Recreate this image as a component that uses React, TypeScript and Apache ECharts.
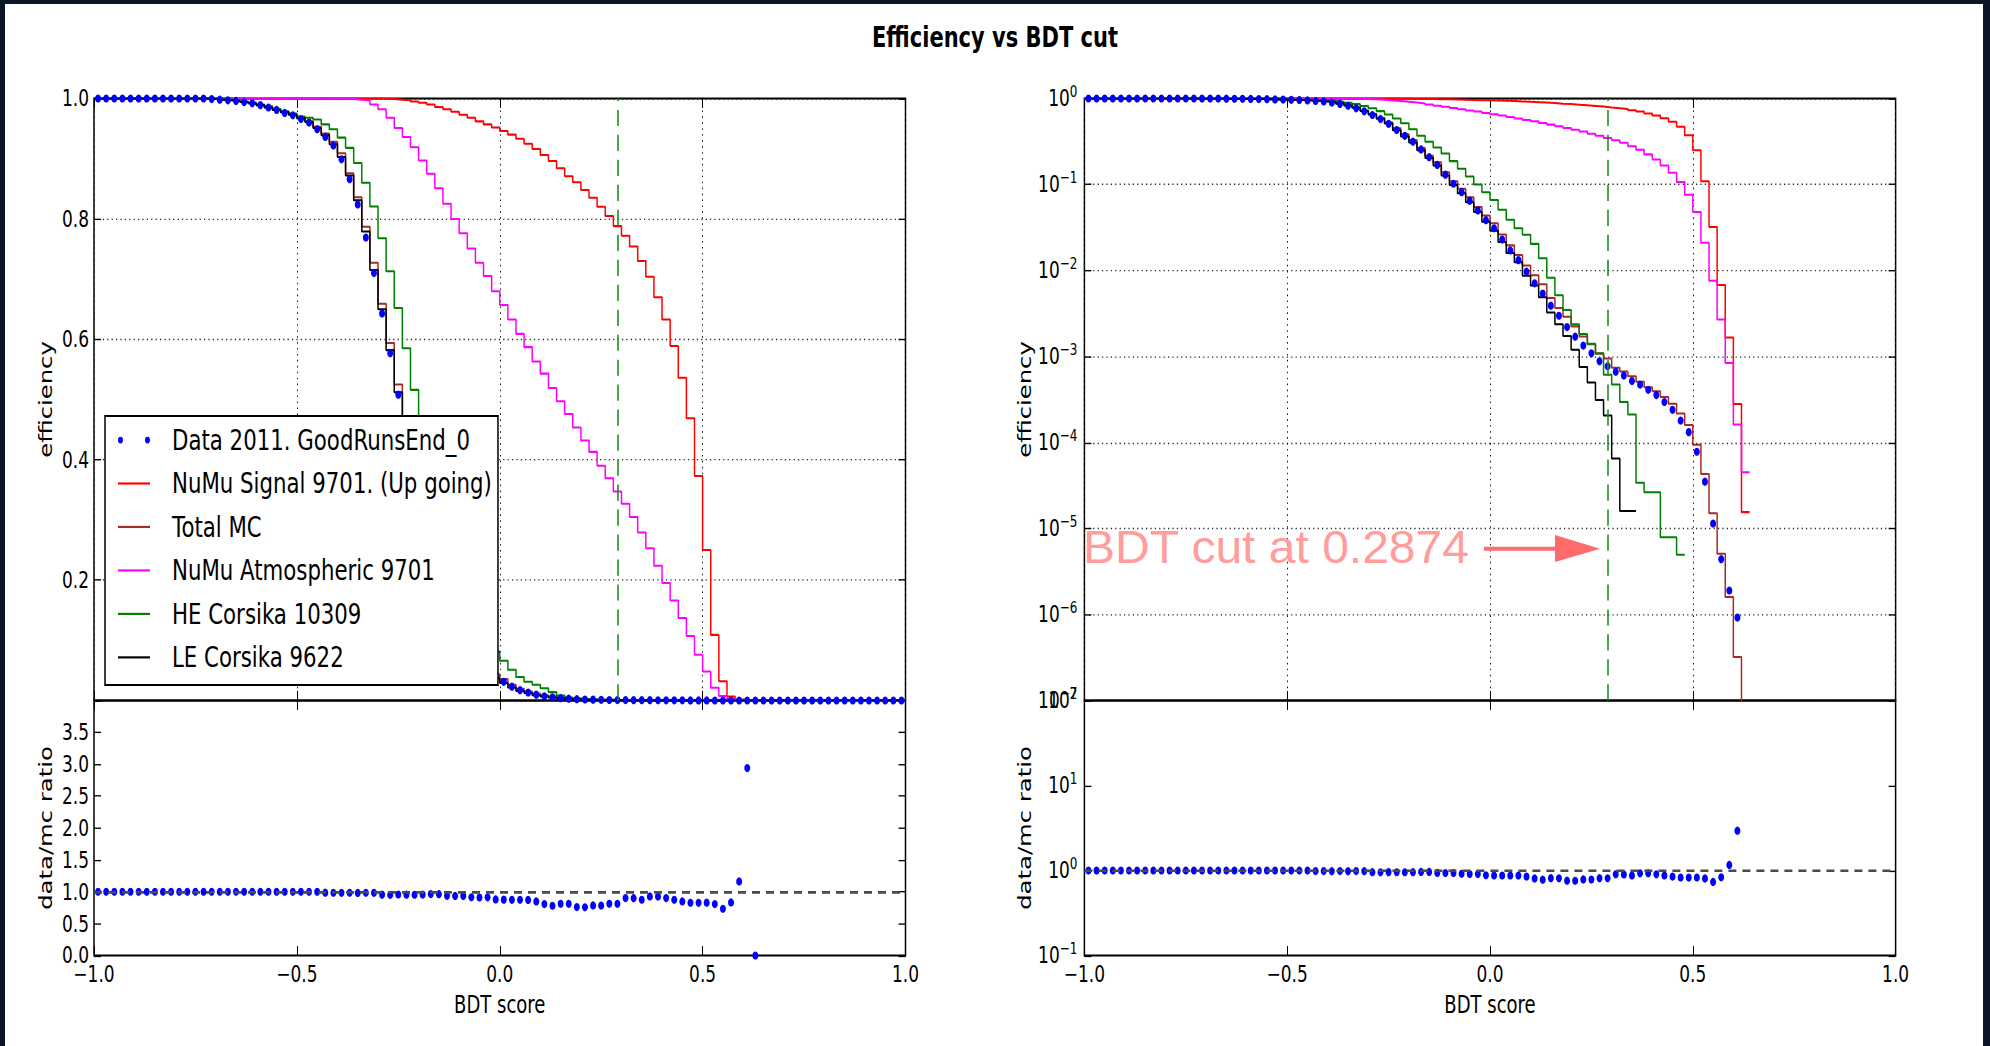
import React, { useEffect, useRef } from 'react';
import * as echarts from 'echarts';

// ---------------- data ----------------
const BIN_COUNT = 100;
const BIN_WIDTH = 0.02;
const X_MIN = -1;

const SERIES_NAMES = [
  'Data 2011. GoodRunsEnd_0',
  'NuMu Signal 9701. (Up going)',
  'Total MC',
  'NuMu Atmospheric 9701',
  'HE Corsika 10309',
  'LE Corsika 9622',
];

const DATA_EFF = [
  1, 1, 1, 1, 1, 1, 1, 1, 1, 1, 1, 1, 1, 1,
  0.999, 0.998, 0.997, 0.996, 0.994, 0.992,
  0.989, 0.985, 0.981, 0.976, 0.972, 0.966, 0.96, 0.949, 0.936, 0.922,
  0.899, 0.866, 0.824, 0.769, 0.71, 0.643, 0.577, 0.508, 0.43, 0.368,
  0.315, 0.256, 0.208, 0.169, 0.13, 0.102, 0.0814, 0.0648, 0.05, 0.0385,
  0.031, 0.0229, 0.0171, 0.0132, 0.0097, 0.0071, 0.0054, 0.0039, 0.00298, 0.0022,
  0.0017, 0.00134, 0.00109, 0.00088, 0.00077, 0.000665, 0.0006, 0.00052, 0.000472, 0.00041,
  0.000356, 0.000296, 0.00024, 0.00018, 0.000132, 0.000078, 0.000035, 0.0000114, 0.0000044, 0.0000019,
  0.00000092, 0, 0, 0, 0, 0, 0, 0, 0, 0,
  0, 0, 0, 0, 0, 0, 0, 0, 0, 0,
];

const SIGNAL_EFF = [
  1, 1, 1, 1, 1, 1, 1, 1, 1, 1, 1, 1, 1, 1, 1, 1, 1, 1, 1, 1,
  1, 1, 1, 1, 1, 1, 1, 1, 1, 1, 1, 1, 1, 1, 1, 1,
  0.999, 0.998, 0.997, 0.995,
  0.993, 0.99, 0.986, 0.982, 0.978, 0.973, 0.968, 0.962, 0.957, 0.952,
  0.946, 0.94, 0.933, 0.925, 0.916, 0.906, 0.896, 0.884, 0.871, 0.861,
  0.848, 0.835, 0.82, 0.805, 0.788, 0.772, 0.754, 0.73, 0.704, 0.67,
  0.633, 0.589, 0.536, 0.469, 0.373, 0.25, 0.109, 0.032, 0.0068, 0.00166,
  0.00028, 0.0000155, 0, 0, 0, 0, 0, 0, 0, 0,
  0, 0, 0, 0, 0, 0, 0, 0, 0, 0,
];

const TOTAL_MC_EFF = [
  1, 1, 1, 1, 1, 1, 1, 1, 1, 1, 1, 1, 1, 1,
  0.999, 0.998, 0.997, 0.996, 0.994, 0.992,
  0.989, 0.985, 0.981, 0.977, 0.973, 0.968, 0.962, 0.953, 0.942, 0.928,
  0.909, 0.876, 0.836, 0.787, 0.727, 0.659, 0.594, 0.525, 0.45, 0.385,
  0.33, 0.266, 0.216, 0.181, 0.139, 0.109, 0.0892, 0.071, 0.0548, 0.0437,
  0.0355, 0.0262, 0.0196, 0.0151, 0.0114, 0.0088, 0.0069, 0.0048, 0.00367, 0.0029,
  0.00224, 0.00171, 0.00139, 0.00108, 0.00095, 0.00074, 0.00067, 0.00059, 0.00051, 0.00044,
  0.000395, 0.000339, 0.000283, 0.000218, 0.00016, 0.000094, 0.000043, 0.000015, 0.0000051, 0.0000016,
  0.00000032, 0.00000003, 0, 0, 0, 0, 0, 0, 0, 0,
  0, 0, 0, 0, 0, 0, 0, 0, 0, 0,
];

const ATM_EFF = [
  1, 1, 1, 1, 1, 1, 1, 1, 1, 1, 1, 1, 1, 1, 1, 1, 1, 1, 1, 1,
  1, 1, 1, 1, 1, 1, 1, 1, 1, 1, 1,
  0.999, 0.998, 0.997, 0.99, 0.982, 0.968, 0.951, 0.936, 0.919,
  0.897, 0.875, 0.851, 0.825, 0.8, 0.776, 0.751, 0.727, 0.705, 0.68,
  0.657, 0.633, 0.609, 0.587, 0.563, 0.543, 0.519, 0.497, 0.476, 0.4535,
  0.432, 0.413, 0.39, 0.369, 0.347, 0.327, 0.305, 0.279, 0.253, 0.224,
  0.195, 0.166, 0.137, 0.107, 0.076, 0.048, 0.021, 0.0076, 0.0027, 0.00084,
  0.000162, 0.000045, 0, 0, 0, 0, 0, 0, 0, 0,
  0, 0, 0, 0, 0, 0, 0, 0, 0, 0,
];

const HE_EFF = [
  1, 1, 1, 1, 1, 1, 1, 1, 1, 1, 1, 1, 1, 1, 1,
  0.999, 0.998, 0.997, 0.995, 0.993,
  0.99, 0.987, 0.983, 0.979, 0.975, 0.97, 0.968, 0.965, 0.957, 0.949,
  0.935, 0.918, 0.893, 0.86, 0.8205, 0.768, 0.713, 0.652, 0.585, 0.516,
  0.44, 0.368, 0.315, 0.27, 0.23, 0.187, 0.152, 0.124, 0.1, 0.0815,
  0.066, 0.051, 0.039, 0.031, 0.026, 0.0204, 0.0139, 0.00826, 0.00517, 0.00348,
  0.00237, 0.00183, 0.00141, 0.00109, 0.000612, 0.000472, 0.000296, 0.000212, 0.000034, 0.0000264,
  0.0000264, 0.0000079, 0.0000079, 0.00000495, 0, 0, 0, 0, 0, 0,
  0, 0, 0, 0, 0, 0, 0, 0, 0, 0,
  0, 0, 0, 0, 0, 0, 0, 0, 0, 0,
];

const LE_EFF = [
  1, 1, 1, 1, 1, 1, 1, 1, 1, 1, 1, 1, 1, 1,
  0.999, 0.998, 0.997, 0.996, 0.994, 0.992,
  0.989, 0.985, 0.981, 0.977, 0.973, 0.967, 0.961, 0.951, 0.939, 0.924,
  0.903, 0.872, 0.831, 0.779, 0.715, 0.65, 0.582, 0.512, 0.427, 0.362,
  0.308, 0.25, 0.203, 0.166, 0.127, 0.099, 0.079, 0.062, 0.048, 0.037,
  0.029, 0.0215, 0.016, 0.0125, 0.0087, 0.0067, 0.0049, 0.00324, 0.00237, 0.00173,
  0.0012, 0.000755, 0.000498, 0.000312, 0.000206, 0.000065, 0.000016, 0.000016, 0, 0,
  0, 0, 0, 0, 0, 0, 0, 0, 0, 0,
  0, 0, 0, 0, 0, 0, 0, 0, 0, 0,
  0, 0, 0, 0, 0, 0, 0, 0, 0, 0,
];

// data / MC ratio, bins 0..81
const RATIO = [
  1, 1, 1, 1, 1, 1, 1, 1, 1, 1, 1, 1, 1, 1, 1, 1, 1, 1, 1, 1,
  1, 1, 1, 1, 1, 1, 1, 1,
  0.985, 0.984, 0.983, 0.984, 0.982, 0.984, 0.983,
  0.955, 0.952, 0.957, 0.954, 0.953, 0.956,
  0.963, 0.962,
  0.936, 0.934, 0.935,
  0.914, 0.91, 0.912,
  0.88,
  0.876, 0.873, 0.875, 0.872, 0.848, 0.806, 0.78, 0.812, 0.81, 0.759,
  0.757, 0.785, 0.783, 0.812, 0.81, 0.901, 0.899, 0.874, 0.927, 0.926,
  0.901, 0.874, 0.848, 0.827, 0.826, 0.828, 0.806, 0.733, 0.833, 1.162,
  2.94, 0,
];

const BDT_CUT = 0.2874;
const LIN_TICKS = { min: 0, max: 1, interval: 0.2 };
const RATIO_TICKS = { min: 0, max: 4, interval: 0.5 };

// ---------------- layout ----------------
const S = 1.35; // vertical stretch of the reference figure
const W = 1990;
const H = 1046 / S;
const FONT = "'DejaVu Sans', sans-serif";
const Y_TOP = 98.5 / S;
const Y_MID = 700.5 / S;
const Y_BOT = 955.5 / S;
const LEFT_X = 94;
const LEFT_W = 811.5;
const RIGHT_X = 1084.4;
const RIGHT_W = 811.2;

const COLORS = {
  data: '#0000ff',
  signal: '#ff0000',
  total: '#a52a2a',
  atm: '#ff00ff',
  he: '#008000',
  le: '#000000',
};

const edge = (i: number) => X_MIN + BIN_WIDTH * i;
const center = (i: number) => X_MIN + BIN_WIDTH * (i + 0.5);

function stepPoints(vals: number[], log: boolean) {
  const pts: any[] = [];
  let prev: number | null = null;
  for (let i = 0; i < vals.length; i++) {
    const v = vals[i];
    const ok = log ? v > 0 : true;
    if (ok) {
      pts.push([edge(i), v]);
      prev = v;
    } else {
      if (prev !== null) pts.push([edge(i), prev]);
      pts.push([edge(i), null]);
      prev = null;
    }
  }
  if (prev !== null) pts.push([edge(vals.length), prev]);
  return pts;
}

function dotPoints(vals: number[], log: boolean) {
  const pts: any[] = [];
  vals.forEach((v, i) => {
    if (!log || v > 0) pts.push([center(i), v]);
  });
  return pts;
}

const fmtX = (v: number) => (v < 0 ? '\u2212' : '') + Math.abs(v).toFixed(1);
const fmtSup = (v: number) => {
  const e = Math.round(Math.log10(v));
  return `{b|10}{s|${e < 0 ? '\u2212' + -e : e}}`;
};
const supRich = {
  b: { fontSize: 17, fontFamily: FONT, color: '#000', lineHeight: 22 },
  s: { fontSize: 12, fontFamily: FONT, color: '#000', lineHeight: 12, verticalAlign: 'top' },
};

const tickStyle = { show: true, inside: true, length: 7, lineStyle: { color: '#000', width: 1 } };
const noLine = { show: false, onZero: false };
const gridLine = { color: '#222', width: 1, type: [1.2, 3.2] };
const nameStyle = { fontSize: 18, fontFamily: FONT, color: '#000' };
const labelStyle = { fontSize: 17, fontFamily: FONT, color: '#000' };

function xPair(grid: number, labels: boolean, split: boolean) {
  return [
    {
      type: 'value', gridIndex: grid, min: -1, max: 1, interval: 0.5, position: 'bottom',
      axisLine: noLine, axisTick: tickStyle,
      axisLabel: { show: labels, formatter: fmtX, margin: 5, ...labelStyle },
      splitLine: { show: split, lineStyle: gridLine },
      name: labels ? 'BDT score' : '', nameLocation: 'middle', nameGap: 27, nameTextStyle: nameStyle,
    },
    {
      type: 'value', gridIndex: grid, min: -1, max: 1, interval: 0.5, position: 'top',
      axisLine: noLine, axisTick: tickStyle, axisLabel: { show: false }, splitLine: { show: false },
    },
  ];
}

function yPair(grid: number, base: any, label: any, split: boolean, name: string, nameGap: number) {
  return [
    {
      ...base, gridIndex: grid, position: 'left', axisLine: noLine, axisTick: tickStyle,
      axisLabel: label, splitLine: { show: split, lineStyle: gridLine },
      name, nameLocation: 'middle', nameGap, nameTextStyle: nameStyle,
    },
    {
      ...base, gridIndex: grid, position: 'right', axisLine: noLine, axisTick: tickStyle,
      axisLabel: { show: false }, splitLine: { show: false },
    },
  ];
}

const linLabel = { formatter: (v: number) => (v === 0 ? '' : v.toFixed(1)), margin: 5, ...labelStyle };
const ratioLabel = { formatter: (v: number) => (v >= 4 ? '' : v.toFixed(1)), margin: 5, ...labelStyle };
const logLabel = { formatter: fmtSup, rich: supRich, margin: 7, ...labelStyle };

const CURVES = [
  { name: SERIES_NAMES[1], color: COLORS.signal, vals: SIGNAL_EFF },
  { name: SERIES_NAMES[2], color: COLORS.total, vals: TOTAL_MC_EFF },
  { name: SERIES_NAMES[3], color: COLORS.atm, vals: ATM_EFF },
  { name: SERIES_NAMES[4], color: COLORS.he, vals: HE_EFF },
  { name: SERIES_NAMES[5], color: COLORS.le, vals: LE_EFF },
];

const cutLine = {
  silent: true, symbol: ['none', 'none'], label: { show: false },
  lineStyle: { color: '#1e8f1e', width: 1.6, type: [12, 6.5] },
  data: [{ xAxis: BDT_CUT }],
};
const oneLine = {
  silent: true, symbol: ['none', 'none'], label: { show: false },
  lineStyle: { color: '#4a4a4a', width: 2, type: [8, 6] },
  data: [{ yAxis: 1 }],
};

function effSeries(g: number, log: boolean) {
  const out: any[] = CURVES.map((c) => ({
    type: 'line', name: c.name, xAxisIndex: 2 * g, yAxisIndex: 2 * g,
    data: stepPoints(c.vals, log), step: 'end', symbol: 'none', showSymbol: false, silent: true,
    lineStyle: { color: c.color, width: 1.5 }, itemStyle: { color: c.color }, z: 2,
    markLine: c.name === SERIES_NAMES[4] ? cutLine : undefined,
  }));
  out.push({
    type: 'scatter', name: SERIES_NAMES[0], xAxisIndex: 2 * g, yAxisIndex: 2 * g,
    data: dotPoints(DATA_EFF, log), symbol: 'circle', symbolSize: 6, silent: true,
    itemStyle: { color: COLORS.data, opacity: 1 }, z: 4,
  });
  return out;
}

function ratioSeries(g: number, log: boolean) {
  return {
    type: 'scatter', name: 'data/mc', xAxisIndex: 2 * g, yAxisIndex: 2 * g,
    data: dotPoints(RATIO, log), symbol: 'circle', symbolSize: 6, silent: true,
    itemStyle: { color: COLORS.data, opacity: 1 }, z: 4, markLine: oneLine,
  };
}

const gridBase = { show: true, borderColor: '#000', borderWidth: 1.5, backgroundColor: 'transparent', containLabel: false, outerBoundsMode: 'none' };

const DOTS_ICON = 'path://M0,1a1,1 0 1,0 2,0a1,1 0 1,0 -2,0zM10.8,1a1,1 0 1,0 2,0a1,1 0 1,0 -2,0z';
const LINE_ICON = 'path://M0,0h32v1.6h-32z';

const option: any = {
  animation: false,
  backgroundColor: 'transparent',
  title: {
    text: 'Efficiency vs BDT cut', left: 'center', top: 17.5, padding: 0,
    textStyle: { fontSize: 21, fontWeight: 'bold', fontFamily: FONT, color: '#000' },
  },
  legend: {
    left: 105, top: 416 / S, orient: 'vertical', selectedMode: false,
    data: [
      { name: SERIES_NAMES[0], icon: DOTS_ICON },
      ...SERIES_NAMES.slice(1).map((n) => ({ name: n, icon: LINE_ICON })),
    ],
    itemWidth: 32, itemHeight: 5, itemGap: 8.2,
    padding: [5.8, 6, 8.5, 13],
    backgroundColor: '#fff', borderColor: '#000', borderWidth: 1.5, borderRadius: 0,
    textStyle: { fontSize: 21.3, fontFamily: FONT, color: '#000', lineHeight: 24, padding: [0, 0, 0, 17] },
    z: 10,
  },
  grid: [
    { ...gridBase, left: LEFT_X, top: Y_TOP, width: LEFT_W, height: Y_MID - Y_TOP },
    { ...gridBase, left: LEFT_X, top: Y_MID, width: LEFT_W, height: Y_BOT - Y_MID },
    { ...gridBase, left: RIGHT_X, top: Y_TOP, width: RIGHT_W, height: Y_MID - Y_TOP },
    { ...gridBase, left: RIGHT_X, top: Y_MID, width: RIGHT_W, height: Y_BOT - Y_MID },
  ],
  xAxis: [
    ...xPair(0, false, true),
    ...xPair(1, true, false),
    ...xPair(2, false, true),
    ...xPair(3, true, false),
  ],
  yAxis: [
    ...yPair(0, { type: 'value', ...LIN_TICKS }, linLabel, true, 'efficiency', 39),
    ...yPair(1, { type: 'value', ...RATIO_TICKS }, ratioLabel, false, 'data/mc ratio', 39),
    ...yPair(2, { type: 'log', logBase: 10, min: 1e-7, max: 1, splitNumber: 7 }, logLabel, true, 'efficiency', 50),
    ...yPair(3, { type: 'log', logBase: 10, min: 0.1, max: 100, splitNumber: 3 }, logLabel, false, 'data/mc ratio', 50),
  ],
  series: [
    ...effSeries(0, false),
    ratioSeries(1, false),
    ...effSeries(2, true),
    ratioSeries(3, true),
  ],
  graphic: [
    {
      type: 'text', x: 1083, y: 547.5 / S, scaleY: 0.95 / S, z: 100, silent: true,
      style: {
        text: 'BDT cut at 0.2874', fill: '#ff9d9d',
        font: "48px 'Liberation Sans', Arial, sans-serif",
        textAlign: 'left', textVerticalAlign: 'middle', align: 'left', verticalAlign: 'middle',
      },
    },
    {
      type: 'line', z: 100, silent: true,
      shape: { x1: 1484, y1: 548.7 / S, x2: 1560, y2: 548.7 / S },
      style: { stroke: '#ff6b6b', lineWidth: 3 },
    },
    {
      type: 'polygon', z: 100, silent: true,
      shape: { points: [[1555, 535 / S], [1600, 548.7 / S], [1555, 562 / S]] },
      style: { fill: '#ff6b6b' },
    },
  ],
};

export default function App() {
  const ref = useRef<HTMLDivElement>(null);
  useEffect(() => {
    const chart = echarts.init(ref.current as HTMLDivElement, null, { renderer: 'svg' });
    chart.setOption(option);
    return () => chart.dispose();
  }, []);
  return (
    <div style={{ position: 'fixed', left: 0, top: 0, width: W, height: 1046, background: '#0c1626', overflow: 'hidden' }}>
      <div style={{ position: 'absolute', left: 5, top: 4, width: 1978, height: 1042, background: '#ffffff' }} />
      <div
        ref={ref}
        style={{ position: 'absolute', left: 0, top: 0, width: W, height: H, transform: `scaleY(${S})`, transformOrigin: '0 0' }}
      />
    </div>
  );
}
